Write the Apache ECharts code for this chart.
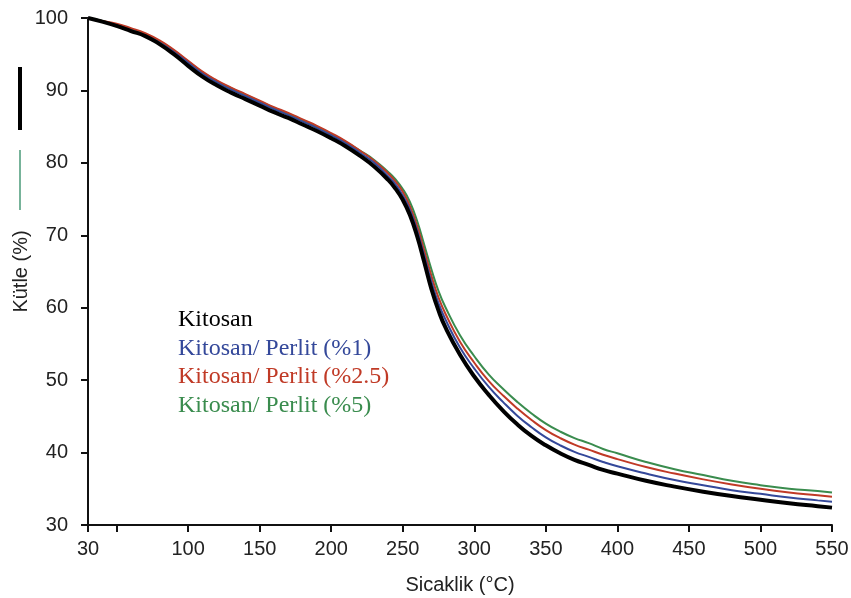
<!DOCTYPE html>
<html>
<head>
<meta charset="utf-8">
<script src="https://cdn.jsdelivr.net/npm/echarts@6/dist/echarts.min.js"></script>
<style>html,body{margin:0;padding:0;background:#fff}#c{width:851px;height:598px}</style>
</head>
<body>
<div id="c"></div>
<script>
var temps = [30,40,50,60,70,80,90,100,110,120,130,140,150,160,170,180,190,200,210,220,230,240,245,250,255,260,265,270,275,280,290,300,310,320,330,340,350,360,370,380,390,400,420,440,460,480,500,520,540,550];
var kitosan = [100,99.5,98.9,98.2,97.5,96.4,95.0,93.4,91.9,90.7,89.7,88.8,87.9,87.0,86.2,85.3,84.4,83.4,82.3,81.0,79.5,77.6,76.4,74.9,72.8,69.9,66.3,62.6,59.6,57.2,53.5,50.5,48.0,45.8,43.9,42.3,41.0,39.9,39.0,38.3,37.6,37.1,36.1,35.3,34.6,34.0,33.5,33.0,32.6,32.4];
var perlit1 = [100,99.5,99.0,98.3,97.6,96.6,95.3,93.8,92.3,91.1,90.1,89.2,88.3,87.4,86.6,85.7,84.8,83.8,82.7,81.4,80.0,78.1,77.0,75.5,73.5,70.7,67.2,63.6,60.6,58.3,54.5,51.6,49.1,47.0,45.1,43.5,42.1,41.0,40.1,39.4,38.7,38.1,37.1,36.2,35.5,34.8,34.3,33.8,33.4,33.2];
var perlit25 = [100,99.6,99.2,98.6,97.9,96.9,95.6,94.1,92.6,91.4,90.4,89.5,88.6,87.7,86.9,86.0,85.1,84.1,83.0,81.7,80.3,78.5,77.4,76.0,74.0,71.3,67.9,64.4,61.4,59.1,55.3,52.4,49.9,47.9,46.1,44.5,43.1,42.0,41.1,40.4,39.7,39.1,38.0,37.1,36.3,35.6,35.0,34.5,34.1,33.9];
var perlit5 = [100,99.6,99.1,98.5,97.8,96.8,95.5,94.0,92.5,91.3,90.3,89.4,88.5,87.6,86.8,85.9,85.0,84.0,82.9,81.7,80.4,78.7,77.7,76.4,74.6,72.0,68.7,65.3,62.3,60.0,56.2,53.3,50.8,48.8,47.0,45.4,44.0,42.9,42.0,41.3,40.5,39.9,38.7,37.7,36.9,36.1,35.5,35.0,34.7,34.5];
var seriesNames = ['Kitosan','Kitosan/ Perlit (%1)','Kitosan/ Perlit (%2.5)','Kitosan/ Perlit (%5)'];
var xTickValues = [30,50,100,150,200,250,300,350,400,450,500,550];
var xLabelValues = [30,100,150,200,250,300,350,400,450,500,550];

function pairs(ys){ return temps.map(function(t,i){ return [t, ys[i]]; }); }

var colors = ['#000000','#34489a','#c03a26','#3a8c4e'];
var chart = echarts.init(document.getElementById('c'));
var font = 'Liberation Sans, Arial, sans-serif';
chart.setOption({
  animation: false,
  backgroundColor: '#ffffff',
  grid: {left: 88, right: 19, top: 18, bottom: 73, outerBoundsMode: 'none', containLabel: false},
  legend: {
    orient: 'vertical', left: 173, top: 308, padding: 0,
    itemWidth: 0, itemHeight: 0, itemGap: 4.5, selectedMode: false,
    data: seriesNames.map(function(n,i){ return {name: n, icon: 'rect', textStyle: {color: colors[i]}}; }),
    textStyle: {fontFamily: 'Liberation Serif, Times New Roman, serif', fontSize: 24, lineHeight: 24, padding: 0}
  },
  xAxis: {
    type: 'value', min: 30, max: 550,
    name: 'Sicaklik (°C)', nameLocation: 'middle', nameGap: 50, nameMoveOverlap: false,
    nameTextStyle: {fontFamily: font, fontSize: 20, color: '#222'},
    axisLine: {lineStyle: {color: '#111', width: 2}},
    axisTick: {show: true, length: 7, lineStyle: {color: '#111', width: 2}, customValues: xTickValues},
    axisLabel: {fontFamily: font, fontSize: 20, color: '#222', margin: 14, customValues: xLabelValues},
    splitLine: {show: false}
  },
  yAxis: {
    type: 'value', min: 30, max: 100, interval: 10,
    name: 'Kütle (%)', nameLocation: 'middle', nameGap: 57, nameRotate: 90, nameMoveOverlap: false,
    nameTextStyle: {fontFamily: font, fontSize: 20, color: '#222'},
    axisLine: {show: true, lineStyle: {color: '#111', width: 2}},
    axisTick: {show: true, length: 7, lineStyle: {color: '#111', width: 2}},
    axisLabel: {fontFamily: font, fontSize: 20, color: '#222', margin: 20},
    splitLine: {show: false}
  },
  series: [
    {name: seriesNames[3], type: 'line', data: pairs(perlit5), smooth: 0.5, symbol: 'none', z: 2, lineStyle: {color: colors[3], width: 2}, itemStyle: {color: colors[3]}},
    {name: seriesNames[2], type: 'line', data: pairs(perlit25), smooth: 0.5, symbol: 'none', z: 3, lineStyle: {color: colors[2], width: 2}, itemStyle: {color: colors[2]}},
    {name: seriesNames[1], type: 'line', data: pairs(perlit1), smooth: 0.5, symbol: 'none', z: 4, lineStyle: {color: colors[1], width: 2}, itemStyle: {color: colors[1]}},
    {name: seriesNames[0], type: 'line', data: pairs(kitosan), smooth: 0.5, symbol: 'none', z: 5, lineStyle: {color: colors[0], width: 4}, itemStyle: {color: colors[0]}}
  ],
  graphic: [
    {type: 'line', shape: {x1: 20, y1: 67, x2: 20, y2: 130}, style: {stroke: '#000', lineWidth: 4}},
    {type: 'line', shape: {x1: 20, y1: 150, x2: 20, y2: 210}, style: {stroke: '#4a9a78', lineWidth: 1.5}}
  ]
});
</script>
</body>
</html>
